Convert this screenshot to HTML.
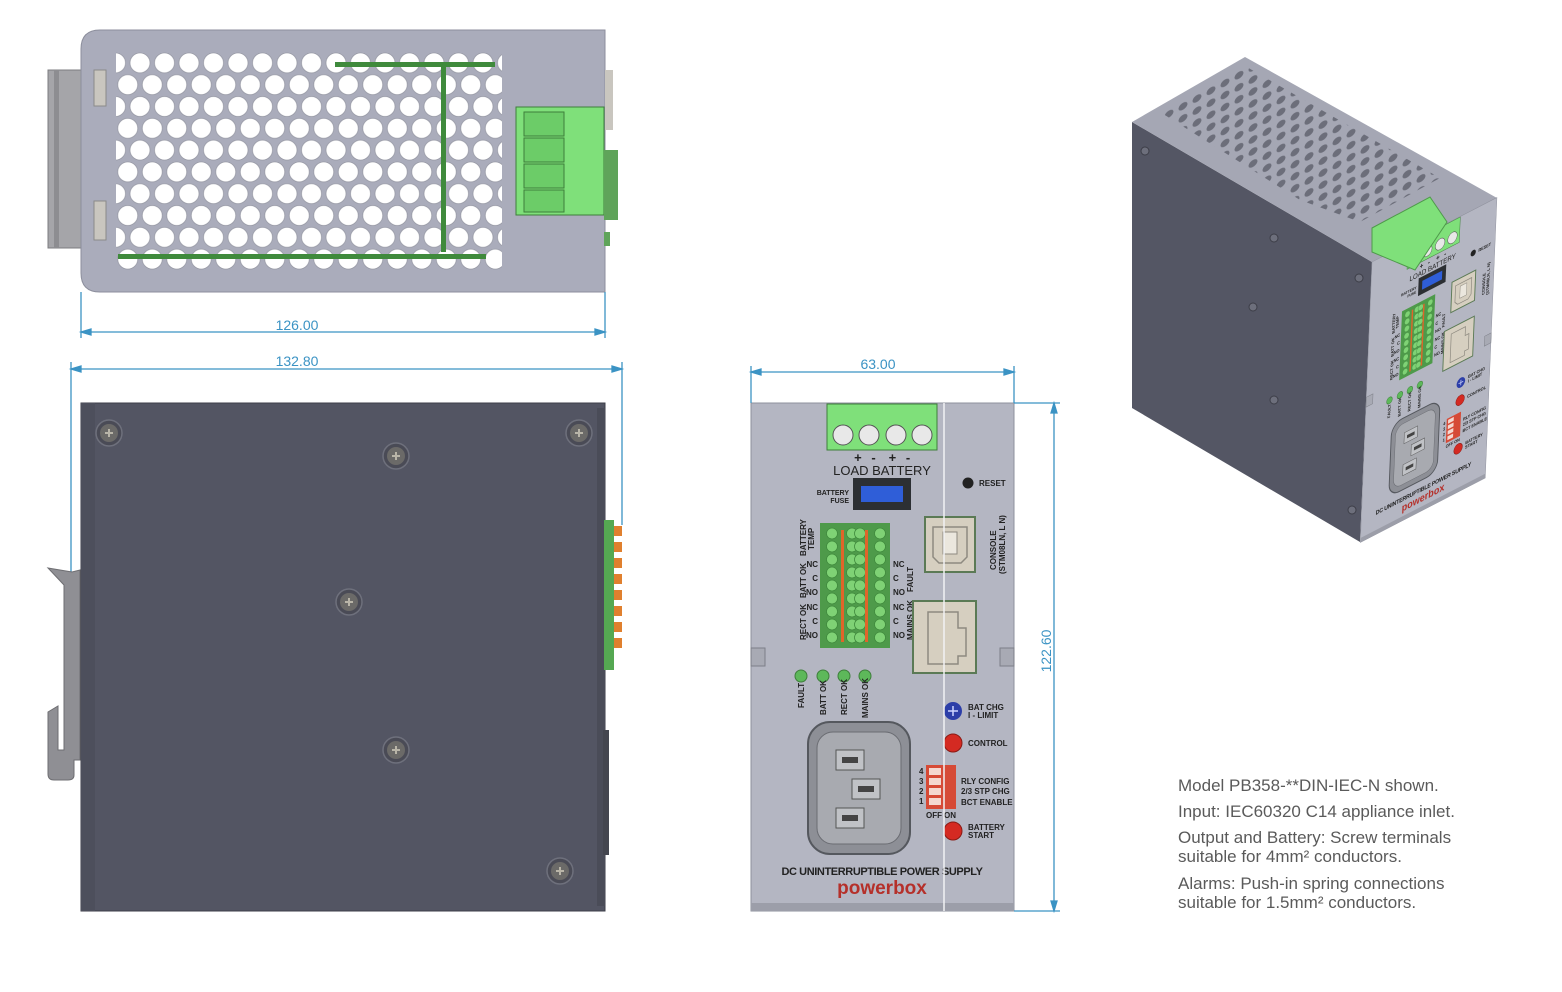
<!DOCTYPE html>
<html><head><meta charset="utf-8"><style>
html,body{margin:0;padding:0;background:#fff;width:1562px;height:992px;overflow:hidden}
svg{display:block}
.t{font-family:"Liberation Sans",sans-serif}
</style></head><body>
<svg width="1562" height="992" viewBox="0 0 1562 992" xmlns="http://www.w3.org/2000/svg">
<defs>
<pattern id="holes" x="127.75" y="52" width="24.5" height="43.6" patternUnits="userSpaceOnUse">
<circle cx="12.25" cy="10.9" r="10" fill="#fff" stroke="#8a8c98" stroke-width="0.6"/>
<circle cx="0" cy="32.7" r="10" fill="#fff" stroke="#8a8c98" stroke-width="0.6"/>
<circle cx="24.5" cy="32.7" r="10" fill="#fff" stroke="#8a8c98" stroke-width="0.6"/>
</pattern>
<pattern id="isoholes" x="0" y="0" width="14" height="12" patternUnits="userSpaceOnUse" patternTransform="skewY(-29)">
<ellipse cx="7" cy="6" rx="4.5" ry="3.5" fill="#6c6e7a"/>
</pattern>
<pattern id="tb" x="823" y="527" width="66" height="13" patternUnits="userSpaceOnUse">
<circle cx="9" cy="6.5" r="5.5" fill="#7fd275" stroke="#3f8a3c" stroke-width="0.8"/>
<circle cx="29" cy="6.5" r="5.5" fill="#7fd275" stroke="#3f8a3c" stroke-width="0.8"/>
<circle cx="37" cy="6.5" r="5.5" fill="#7fd275" stroke="#3f8a3c" stroke-width="0.8"/>
<circle cx="57" cy="6.5" r="5.5" fill="#7fd275" stroke="#3f8a3c" stroke-width="0.8"/>
</pattern>
<g id="screw"><circle r="13" fill="#4a4b56" stroke="#6e707c" stroke-width="1.5"/><circle r="9" fill="#6b6a68"/><path d="M-4 0h8M0 -4v8" stroke="#b9b5a8" stroke-width="2"/></g>
<clipPath id="topclip"><rect x="116" y="52" width="386" height="218"/></clipPath>
</defs>

<!-- TOP VIEW -->
<rect x="48" y="70" width="34" height="178" fill="#a5a5a9" stroke="#7c7c80"/>
<rect x="54" y="70" width="5" height="178" fill="#8d8d91"/>
<path d="M100 30 H605 V292 H100 Q81 292 81 273 V49 Q81 30 100 30Z" fill="#aaacbb" stroke="#8c8e9c"/>
<rect x="94" y="70" width="12" height="36" fill="#c9c6bf" stroke="#8a8a8a"/>
<rect x="94" y="201" width="12" height="39" fill="#c9c6bf" stroke="#8a8a8a"/>
<rect x="605" y="70" width="8" height="60" fill="#c9c6bf"/>
<rect x="104" y="40" width="410" height="240" fill="url(#holes)" clip-path="url(#topclip)"/>
<rect x="335" y="62" width="160" height="5" fill="#3f8a3c"/>
<rect x="118" y="254" width="368" height="5" fill="#3f8a3c"/>
<rect x="441" y="62" width="5" height="190" fill="#3f8a3c"/>
<rect x="516" y="107" width="88" height="108" fill="#7fe07a" stroke="#3e7e3b"/>
<rect x="524" y="112" width="40" height="24" fill="#6ccc68" stroke="#3e7e3b"/>
<rect x="524" y="138" width="40" height="24" fill="#6ccc68" stroke="#3e7e3b"/>
<rect x="524" y="164" width="40" height="24" fill="#6ccc68" stroke="#3e7e3b"/>
<rect x="524" y="190" width="40" height="22" fill="#6ccc68" stroke="#3e7e3b"/>
<rect x="604" y="150" width="14" height="70" fill="#5fa45a"/>
<rect x="604" y="232" width="6" height="14" fill="#5fa45a"/>
<!-- dims top -->
<g stroke="#3b93c4" stroke-width="1.3" fill="#3b93c4">
<line x1="81" y1="292" x2="81" y2="338"/><line x1="605" y1="292" x2="605" y2="338"/>
<line x1="81" y1="332" x2="605" y2="332"/>
<path d="M81 332 l10 -3 v6z M605 332 l-10 -3 v6z"/>
<line x1="71" y1="362" x2="71" y2="580"/><line x1="622" y1="362" x2="622" y2="525"/>
<line x1="71" y1="369" x2="622" y2="369"/>
<path d="M71 369 l10 -3 v6z M622 369 l-10 -3 v6z"/>
</g>
<text x="297" y="330" class="t" font-size="14" fill="#3b93c4" text-anchor="middle">126.00</text>
<text x="297" y="366" class="t" font-size="14" fill="#3b93c4" text-anchor="middle">132.80</text>

<!-- SIDE VIEW -->
<path d="M48 568 L72 572 L80 570 L80 760 L74 760 L74 775 Q74 780 68 780 L54 780 Q48 780 48 774 L48 712 L58 706 L58 750 L64 750 L64 585 Z" fill="#8f8f94" stroke="#6e6e72"/>
<rect x="81" y="403" width="524" height="508" fill="#535563" stroke="#3d3e48"/>
<rect x="81" y="403" width="14" height="508" fill="#4d4f5c"/>
<rect x="597" y="408" width="8" height="498" fill="#4a4c58"/>
<use href="#screw" x="109" y="433"/>
<use href="#screw" x="396" y="456"/>
<use href="#screw" x="579" y="433"/>
<use href="#screw" x="349" y="602"/>
<use href="#screw" x="396" y="750"/>
<use href="#screw" x="560" y="871"/>
<rect x="604" y="520" width="10" height="150" fill="#55a852"/>
<g fill="#e0802e"><rect x="614" y="526" width="8" height="10"/><rect x="614" y="542" width="8" height="10"/><rect x="614" y="558" width="8" height="10"/><rect x="614" y="574" width="8" height="10"/><rect x="614" y="590" width="8" height="10"/><rect x="614" y="606" width="8" height="10"/><rect x="614" y="622" width="8" height="10"/><rect x="614" y="638" width="8" height="10"/></g>
<rect x="603" y="730" width="6" height="125" fill="#44464f"/>

<!-- FRONT VIEW -->
<g id="front">
<rect x="751" y="403" width="263" height="508" fill="#b4b6c2" stroke="#8e909c"/>
<rect x="751" y="903" width="263" height="8" fill="#9c9ea9"/>
<rect x="751" y="648" width="14" height="18" fill="#a8aab4" stroke="#7d7f88"/>
<rect x="1000" y="648" width="14" height="18" fill="#a8aab4" stroke="#7d7f88"/>
<rect x="827" y="404" width="110" height="46" fill="#7fe07a" stroke="#3e7e3b"/>
<g fill="#e8e8e8" stroke="#555" stroke-width="1"><circle cx="843" cy="435" r="10"/><circle cx="869" cy="435" r="10"/><circle cx="896" cy="435" r="10"/><circle cx="922" cy="435" r="10"/></g>
<text x="882" y="462" class="t" font-size="13" font-weight="bold" fill="#222" text-anchor="middle" letter-spacing="-0.3">+&#160;&#160;&#160;-&#160;&#160;&#160;&#160;+&#160;&#160;&#160;-</text>
<text x="882" y="475" class="t" font-size="13" fill="#222" text-anchor="middle">LOAD BATTERY</text>
<circle cx="968" cy="483" r="5.5" fill="#222"/>
<text x="979" y="486" class="t" font-size="8" font-weight="bold" fill="#222">RESET</text>
<rect x="853" y="478" width="58" height="32" fill="#2c2f33"/>
<rect x="861" y="486" width="42" height="16" fill="#2f5ed8"/>
<text x="849" y="495" class="t" font-size="7" font-weight="bold" fill="#222" text-anchor="end">BATTERY</text>
<text x="849" y="503" class="t" font-size="7" font-weight="bold" fill="#222" text-anchor="end">FUSE</text>
<rect x="820" y="523" width="70" height="125" fill="#4e9a4a"/>
<rect x="823" y="527" width="66" height="117" fill="url(#tb)"/>
<rect x="841" y="530" width="3" height="112" fill="#e0652a"/><rect x="865" y="530" width="3" height="112" fill="#e0652a"/>
<g class="t" font-size="8" font-weight="bold" fill="#222">
<text x="818" y="567" text-anchor="end">NC</text><text x="818" y="581" text-anchor="end">C</text><text x="818" y="595" text-anchor="end">NO</text>
<text x="818" y="610" text-anchor="end">NC</text><text x="818" y="624" text-anchor="end">C</text><text x="818" y="638" text-anchor="end">NO</text>
<text x="893" y="567">NC</text><text x="893" y="581">C</text><text x="893" y="595">NO</text>
<text x="893" y="610">NC</text><text x="893" y="624">C</text><text x="893" y="638">NO</text>
<text transform="translate(806,556) rotate(-90)">BATTERY</text>
<text transform="translate(814,550) rotate(-90)">TEMP</text>
<text transform="translate(806,598) rotate(-90)">BATT OK</text>
<text transform="translate(806,640) rotate(-90)">RECT OK</text>
<text transform="translate(913,592) rotate(-90)">FAULT</text>
<text transform="translate(913,640) rotate(-90)">MAINS OK</text>
<text transform="translate(996,570) rotate(-90)">CONSOLE</text>
<text transform="translate(1005,574) rotate(-90)">(STM08LN, L N)</text>
</g>
<rect x="925" y="517" width="50" height="55" fill="#d6cfc0" stroke="#5b7a55" stroke-width="2"/>
<path d="M933 527 h34 v30 l-6 6 h-22 l-6 -6z" fill="none" stroke="#8e8a80" stroke-width="1.5"/>
<rect x="943" y="532" width="14" height="22" fill="#ebe7de" stroke="#8e8a80"/>
<rect x="913" y="601" width="63" height="72" fill="#d6cfc0" stroke="#5b7a55" stroke-width="2"/>
<path d="M928 612 h30 v16 h8 v28 h-8 v8 h-30z" fill="none" stroke="#8e8a80" stroke-width="1.5"/>
<g fill="#5db85a" stroke="#3e7e3b"><circle cx="801" cy="676" r="6"/><circle cx="823" cy="676" r="6"/><circle cx="844" cy="676" r="6"/><circle cx="865" cy="676" r="6"/></g>
<g class="t" font-size="8" font-weight="bold" fill="#222">
<text transform="translate(804,708) rotate(-90)">FAULT</text>
<text transform="translate(826,715) rotate(-90)">BATT OK</text>
<text transform="translate(847,715) rotate(-90)">RECT OK</text>
<text transform="translate(868,718) rotate(-90)">MAINS OK</text>
<text x="968" y="710">BAT CHG</text><text x="968" y="718">I - LIMIT</text>
<text x="968" y="746">CONTROL</text>
<text x="961" y="784">RLY CONFIG</text><text x="961" y="794">2/3 STP CHG</text><text x="961" y="805">BCT ENABLE</text>
<text x="919" y="774">4</text><text x="919" y="784">3</text><text x="919" y="794">2</text><text x="919" y="804">1</text>
<text x="926" y="818">OFF</text><text x="944" y="818">ON</text>
<text x="968" y="830">BATTERY</text><text x="968" y="838">START</text>
</g>
<circle cx="953" cy="711" r="9" fill="#2c3ea8"/><path d="M948 711h10M953 706v10" stroke="#cfd6ff" stroke-width="1.5"/>
<circle cx="953" cy="743" r="9" fill="#d42a22" stroke="#8a1a14"/>
<circle cx="953" cy="831" r="9" fill="#d42a22" stroke="#8a1a14"/>
<rect x="926" y="765" width="30" height="44" fill="#d64a36"/>
<g fill="#f4d8d0"><rect x="929" y="768" width="12" height="7"/><rect x="929" y="778" width="12" height="7"/><rect x="929" y="788" width="12" height="7"/><rect x="929" y="798" width="12" height="7"/></g>
<rect x="808" y="722" width="102" height="132" rx="22" fill="#8d8f96" stroke="#55585e" stroke-width="2"/>
<rect x="817" y="732" width="84" height="112" rx="16" fill="#a8aab0" stroke="#6a6c72"/>
<rect x="836" y="750" width="28" height="20" fill="#c0c2c6" stroke="#555"/><rect x="842" y="757" width="16" height="6" fill="#444"/>
<rect x="852" y="779" width="28" height="20" fill="#c0c2c6" stroke="#555"/><rect x="858" y="786" width="16" height="6" fill="#444"/>
<rect x="836" y="808" width="28" height="20" fill="#c0c2c6" stroke="#555"/><rect x="842" y="815" width="16" height="6" fill="#444"/>
<text x="882" y="875" class="t" font-size="11" font-weight="bold" fill="#222" text-anchor="middle" letter-spacing="-0.4">DC UNINTERRUPTIBLE POWER SUPPLY</text>
<text x="882" y="894" class="t" font-size="19" font-weight="bold" fill="#b5302a" text-anchor="middle">powerbox</text>
</g>
<line x1="944" y1="403" x2="944" y2="911" stroke="#f2f2f4" stroke-width="1.5"/>
<!-- dims front -->
<g stroke="#3b93c4" stroke-width="1.3" fill="#3b93c4">
<line x1="751" y1="366" x2="751" y2="403"/><line x1="1014" y1="366" x2="1014" y2="403"/>
<line x1="751" y1="372" x2="1014" y2="372"/>
<path d="M751 372 l10 -3 v6z M1014 372 l-10 -3 v6z"/>
<line x1="1014" y1="403" x2="1060" y2="403"/><line x1="1014" y1="911" x2="1060" y2="911"/>
<line x1="1054" y1="403" x2="1054" y2="911"/>
<path d="M1054 403 l-3 10 h6z M1054 911 l-3 -10 h6z"/>
</g>
<text x="878" y="369" class="t" font-size="14" fill="#3b93c4" text-anchor="middle">63.00</text>
<text transform="translate(1051,651) rotate(-90)" class="t" font-size="14" fill="#3b93c4" text-anchor="middle">122.60</text>

<!-- ISO VIEW -->
<polygon points="1132,122 1372,262 1360,542 1132,408" fill="#545664"/>
<polygon points="1132,122 1245,57 1497,198 1372,262" fill="#a5a7b4"/>
<polygon points="1160,112 1245,66 1440,178 1360,222 1300,200" fill="url(#isoholes)"/>
<g transform="matrix(0.475,-0.245,-0.023,0.552,1372,262) translate(-751,-403)">
<use href="#front"/>
</g>
<polygon points="1372,228 1430,197 1447,222 1415,270 1372,252" fill="#7fe07a" stroke="#4e9a4a"/>
<g fill="#6d6f7c" stroke="#3d3e48"><circle cx="1145" cy="151" r="4"/><circle cx="1274" cy="238" r="4"/><circle cx="1359" cy="278" r="4"/><circle cx="1253" cy="307" r="4"/><circle cx="1274" cy="400" r="4"/><circle cx="1352" cy="510" r="4"/></g>

<!-- notes -->
<g class="t" font-size="17" fill="#5a5a5a">
<text x="1178" y="791">Model PB358-**DIN-IEC-N shown.</text>
<text x="1178" y="817">Input: IEC60320 C14 appliance inlet.</text>
<text x="1178" y="843">Output and Battery: Screw terminals</text>
<text x="1178" y="862">suitable for 4mm² conductors.</text>
<text x="1178" y="889">Alarms: Push-in spring connections</text>
<text x="1178" y="908">suitable for 1.5mm² conductors.</text>
</g>
</svg>
</body></html>
